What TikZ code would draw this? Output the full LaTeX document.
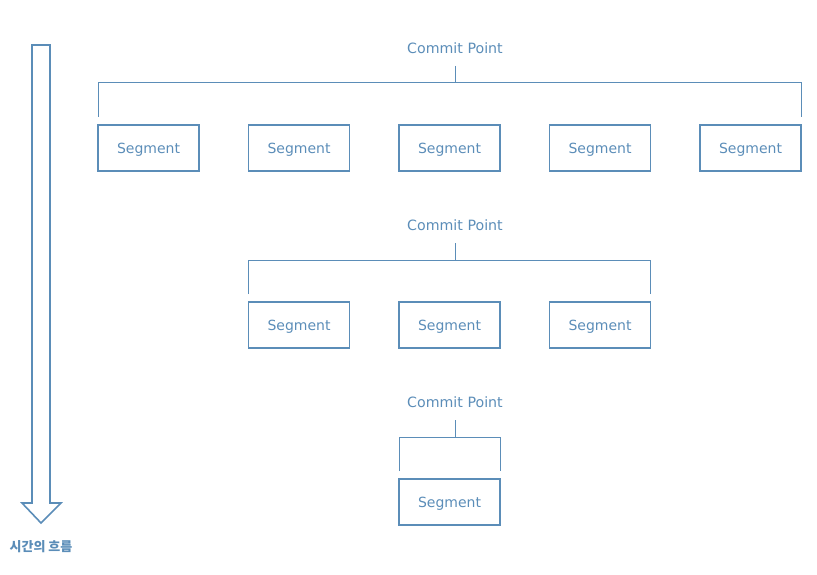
\documentclass[tikz,border=0pt]{standalone}
\usepackage{fontspec}
\setmainfont{DejaVu Sans}
\newfontfamily\korean{Noto Sans CJK KR}
\usetikzlibrary{positioning}
\definecolor{segblue}{HTML}{5B8DB8}

\begin{document}
\begin{tikzpicture}[x=1pt,y=-1pt,
	seg/.style={draw=segblue,line width=1.8pt,outer sep=0pt,minimum width=101pt,minimum height=46pt,inner sep=0pt,text depth=0pt,text=segblue,font=\fontsize{14}{16}\selectfont},
	cp/.style={text=segblue,inner sep=0pt,font=\fontsize{14.2}{16}\selectfont},
	bar/.style={draw=segblue,line width=1pt}]
	\useasboundingbox (0,0) rectangle (817,575);
	% first commit
	\node[cp] (c1) at (455,48) {Commit Point};
	\node[seg] (s11) at (148.5,148) {Segment};
	\node[seg,right=49.5pt of s11] (s12) {Segment};
	\node[seg,right=49.5pt of s12] (s13) {Segment};
	\node[seg,right=49.5pt of s13] (s14) {Segment};
	\node[seg,right=49.5pt of s14] (s15) {Segment};
	\coordinate (b1) at ([yshift=42pt]s13.north);
	\draw[bar] ([yshift=8pt]s11.north west) -- (s11.north west |- b1) -- (s15.north east |- b1) -- ([yshift=8pt]s15.north east);
	\draw[bar] ([yshift=-18pt]c1.center) -- (c1.center |- b1);
	% second commit
	\node[cp] (c2) at (455,225) {Commit Point};
	\node[seg] (s21) at (299,325) {Segment};
	\node[seg,right=49.5pt of s21] (s22) {Segment};
	\node[seg,right=49.5pt of s22] (s23) {Segment};
	\coordinate (b2) at ([yshift=42pt]s22.north);
	\draw[bar] ([yshift=8pt]s21.north west) -- (s21.north west |- b2) -- (s23.north east |- b2) -- ([yshift=8pt]s23.north east);
	\draw[bar] ([yshift=-18pt]c2.center) -- (c2.center |- b2);
	% third commit
	\node[cp] (c3) at (455,402) {Commit Point};
	\node[seg] (s31) at (449.5,502) {Segment};
	\coordinate (b3) at ([yshift=42pt]s31.north);
	\draw[bar] ([yshift=8pt]s31.north west) -- (s31.north west |- b3) -- (s31.north east |- b3) -- ([yshift=8pt]s31.north east);
	\draw[bar] ([yshift=-18pt]c3.center) -- (c3.center |- b3);
	% time arrow
	\draw[segblue,line width=1.6pt] (32,45) -- (50,45) -- (50,503) -- (61,503) -- (41,523) -- (22,503) -- (32,503) -- cycle;
	\node[text=segblue,font=\korean\fontsize{13}{15}\bfseries] (flow) at (41,547) {시간의 흐름};
\end{tikzpicture}
\end{document}
